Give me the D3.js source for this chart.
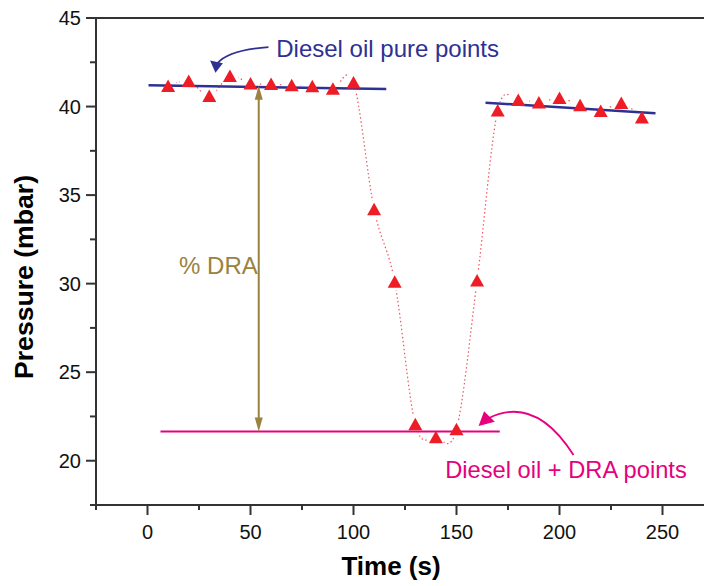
<!DOCTYPE html>
<html>
<head>
<meta charset="utf-8">
<script src="https://cdn.jsdelivr.net/npm/d3@7"></script>
<style>
  body { margin: 0; background: #fff; }
  text { font-family: "Liberation Sans", Arial, sans-serif; }
</style>
</head>
<body>
<svg id="chart" width="704" height="586"></svg>
<script>
// 数据：时间 (s) 与压力 (mbar)
const times     = [10, 20, 30, 40, 50, 60, 70, 80, 90, 100, 110, 120, 130, 140, 150, 160, 170, 180, 190, 200, 210, 220, 230, 240];
const pressures = [41.16, 41.44, 40.6, 41.72, 41.3, 41.27, 41.2, 41.14, 41.0, 41.36, 34.2, 30.1, 22.06, 21.33, 21.78, 30.18, 39.77, 40.37, 40.23, 40.48, 40.08, 39.75, 40.2, 39.38];

// 拟合线（纯柴油 / 柴油 + DRA）
const pureFit1 = [[0.5, 41.2], [115.9, 40.99]];
const pureFit2 = [[164.1, 40.22], [246.6, 39.62]];
const draFit   = [[6.3, 21.65], [171, 21.65]];

// 刻度
const xTicks = [0, 50, 100, 150, 200, 250];
const xMinor = [-25, 25, 75, 125, 175, 225, 275];
const yTicks = [20, 25, 30, 35, 40, 45];
const yMinor = [17.5, 22.5, 27.5, 32.5, 37.5, 42.5];

// 标注（数据坐标）
const draArrow = { x: 54, top: 41.17, bottom: 21.65 };

const svg = d3.select("#chart");
const x = d3.scaleLinear().domain([-25, 275]).range([96, 714]);
const y = d3.scaleLinear().domain([17.5, 45]).range([505, 18]);

const axisColor = "#333";
const red = "#ee1c25";
const navy = "#2e3192";
const pink = "#e6007e";
const olive = "#9a8240";

// 数据坐标 -> 像素
const P = (a, b) => `${x(a)},${y(b)}`;

// 虚线样条
const pts = times.map((t, i) => [t, pressures[i]]);
const mask = svg.append("defs").append("mask").attr("id", "gap");
mask.append("rect").attr("width", 704).attr("height", 586).attr("fill", "#fff");
mask.selectAll("circle").data(pts).join("circle")
  .attr("cx", d => x(d[0])).attr("cy", d => y(d[1])).attr("r", 9).attr("fill", "#000");

svg.append("path")
  .datum(pts)
  .attr("d", d3.line().x(d => x(d[0])).y(d => y(d[1])).curve(d3.curveCardinal.tension(0)))
  .attr("fill", "none")
  .attr("stroke", red)
  .attr("stroke-opacity", 0.75)
  .attr("stroke-width", 1.2)
  .attr("stroke-dasharray", "1.5,2.5")
  .attr("mask", "url(#gap)");

// 拟合线
const fitLine = d3.line().x(d => x(d[0])).y(d => y(d[1]));
[pureFit1, pureFit2].forEach(f => {
  svg.append("path").attr("d", fitLine(f)).attr("stroke", navy).attr("stroke-width", 2.5).attr("fill", "none");
});
svg.append("path").attr("d", fitLine(draFit)).attr("stroke", pink).attr("stroke-width", 2).attr("fill", "none");

// 三角形标记
svg.append("g").selectAll("path").data(pts).join("path")
  .attr("transform", d => `translate(${x(d[0])},${y(d[1])})`)
  .attr("d", "M0,-6.5L7,6L-7,6Z")
  .attr("fill", red);

// % DRA 双向箭头
const ax = x(draArrow.x), ay1 = y(draArrow.top), ay2 = y(draArrow.bottom);
svg.append("line").attr("x1", ax).attr("x2", ax).attr("y1", ay1 + 10).attr("y2", ay2 - 10)
  .attr("stroke", olive).attr("stroke-width", 2);
svg.append("path").attr("d", `M${ax},${ay1}L${ax + 4},${ay1 + 14}L${ax - 4},${ay1 + 14}Z`).attr("fill", olive);
svg.append("path").attr("d", `M${ax},${ay2}L${ax + 4},${ay2 - 14}L${ax - 4},${ay2 - 14}Z`).attr("fill", olive);
svg.append("text").attr("x", ax - 1).attr("y", y(30.54)).attr("text-anchor", "end")
  .attr("font-size", "24px").attr("fill", olive).text("% DRA");

// 纯柴油标注
svg.append("path")
  .attr("d", `M${P(58.7, 43.36)}Q${P(39.3, 43.19)} ${P(34.0, 42.45)}`)
  .attr("fill", "none").attr("stroke", navy).attr("stroke-width", 1.8);
svg.append("path")
  .attr("d", `M${P(33.0, 41.91)}L${P(30.4, 42.6)}L${P(36.6, 42.45)}Z`)
  .attr("fill", navy);
svg.append("text").attr("x", x(62.5)).attr("y", y(42.8)).attr("font-size", "24px")
  .attr("fill", navy).text("Diesel oil pure points");

// 柴油 + DRA 标注
svg.append("path")
  .attr("d", `M${P(206.8, 20.32)}Q${P(188.3, 23.71)} ${P(165.5, 22.4)}`)
  .attr("fill", "none").attr("stroke", pink).attr("stroke-width", 1.8);
svg.append("path")
  .attr("d", `M${P(160.7, 21.96)}L${P(163.4, 22.8)}L${P(168.6, 22.2)}Z`)
  .attr("fill", pink);
svg.append("text").attr("x", x(144.5)).attr("y", y(19.03)).attr("font-size", "23.7px")
  .attr("fill", pink).text("Diesel oil + DRA points");

// 坐标轴
const frame = svg.append("g").attr("stroke", axisColor).attr("stroke-width", 2);
frame.append("line").attr("x1", 96).attr("x2", 96).attr("y1", 17).attr("y2", 506);
frame.append("line").attr("x1", 95).attr("x2", 714).attr("y1", 505).attr("y2", 505);
frame.append("line").attr("x1", 95).attr("x2", 714).attr("y1", 18).attr("y2", 18);

frame.selectAll("line.xt").data(xTicks).join("line").attr("class", "xt")
  .attr("x1", d => x(d)).attr("x2", d => x(d)).attr("y1", 505).attr("y2", 515);
frame.selectAll("line.xm").data(xMinor).join("line").attr("class", "xm")
  .attr("x1", d => x(d)).attr("x2", d => x(d)).attr("y1", 505).attr("y2", 510);
frame.selectAll("line.yt").data(yTicks).join("line").attr("class", "yt")
  .attr("x1", 86).attr("x2", 96).attr("y1", d => y(d)).attr("y2", d => y(d));
frame.selectAll("line.ym").data(yMinor).join("line").attr("class", "ym")
  .attr("x1", 90).attr("x2", 96).attr("y1", d => y(d)).attr("y2", d => y(d));

svg.append("g").selectAll("text").data(xTicks).join("text")
  .attr("x", d => x(d)).attr("y", 539).attr("text-anchor", "middle")
  .attr("font-size", "20px").attr("fill", "#111").text(d => d);
svg.append("g").selectAll("text").data(yTicks).join("text")
  .attr("x", 81).attr("y", d => y(d) + 7).attr("text-anchor", "end")
  .attr("font-size", "20px").attr("fill", "#111").text(d => d);

svg.append("text").attr("x", 391).attr("y", 575).attr("text-anchor", "middle")
  .attr("font-size", "26px").attr("font-weight", "bold").attr("fill", "#000").text("Time (s)");
svg.append("text").attr("transform", "translate(33,277) rotate(-90)").attr("text-anchor", "middle")
  .attr("font-size", "25px").attr("font-weight", "bold").attr("fill", "#000")
  .attr("textLength", 204).attr("lengthAdjust", "spacingAndGlyphs").text("Pressure (mbar)");
</script>
</body>
</html>
